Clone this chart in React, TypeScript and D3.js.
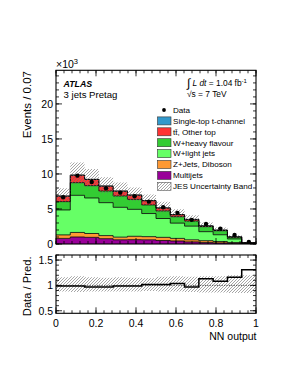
// ATLAS-style stacked NN-output histogram with a data/prediction ratio panel.
import * as d3 from "d3";

// 14 bins over [0,1], values in units of 10^3 events
const NBINS = 14;
const multijets = [0.8, 1.0, 0.95, 0.76, 0.6, 0.62, 0.6, 0.5, 0.43, 0.3, 0.2, 0.15, 0.1, 0.02];
const zjets = [0.5, 0.65, 0.55, 0.44, 0.38, 0.48, 0.45, 0.45, 0.37, 0.3, 0.27, 0.2, 0.1, 0.02];
const wlight = [3.56, 5.3, 5.07, 4.7, 4.26, 3.85, 3.3, 2.69, 2.18, 1.95, 1.29, 0.97, 0.52, 0.08];
const wheavy = [1.19, 1.81, 1.76, 1.67, 1.62, 1.42, 1.23, 1.09, 0.92, 0.73, 0.72, 0.58, 0.26, 0.04];
const ttbar = [0.78, 1.06, 0.88, 0.69, 0.68, 0.6, 0.59, 0.4, 0.27, 0.2, 0.08, 0.05, 0.01, 0.01];
const singleTop = [0.02, 0.03, 0.03, 0.03, 0.03, 0.03, 0.03, 0.03, 0.04, 0.04, 0.05, 0.05, 0.06, 0.02];
const dataPts = [6.67, 9.76, 8.86, 7.95, 7.33, 6.82, 6.05, 5.25, 4.45, 3.45, 2.85, 2.2, 1.3, 0.28];
const ratio = [0.99, 0.99, 0.97, 0.97, 0.99, 0.99, 1.02, 1.02, 1.04, 0.97, 1.13, 1.08, 1.16, 1.31];
// JES band, relative to the total prediction
const bandUp = [1.16, 1.18, 1.16, 1.15, 1.16, 1.15, 1.14, 1.17, 1.18, 1.17, 1.18, 1.18, 1.2, 1.2];
const bandDn = [0.88, 0.87, 0.88, 0.88, 0.88, 0.88, 0.89, 0.88, 0.88, 0.87, 0.86, 0.86, 0.85, 0.85];

const xTicksMajor = [0, 0.2, 0.4, 0.6, 0.8, 1];
const xTickLabels = ["0", "0.2", "0.4", "0.6", "0.8", "1"];
const yTicksMain = [0, 5, 10, 15, 20];
const yTicksRatio = [0.5, 1, 1.5];
const yRatioLabels = ["0.5", "1", "1.5"];

const layers = [
  { key: "multi", label: "Multijets", vals: multijets, color: "#990099" },
  { key: "zjets", label: "Z+Jets, Diboson", vals: zjets, color: "#ff9933" },
  { key: "wlight", label: "W+light jets", vals: wlight, color: "#66ff66" },
  { key: "wheavy", label: "W+heavy flavour", vals: wheavy, color: "#33cc33" },
  { key: "tt", label: "tt̄, Other top", vals: ttbar, color: "#ff3333" },
  { key: "st", label: "Single-top t-channel", vals: singleTop, color: "#3399cc" },
];

const FONT = "'Liberation Sans', Arial, Helvetica, sans-serif";
const W = 291;
const H = 376;

export default function App() {
  const x = d3.scaleLinear().domain([0, 1]).range([56, 256]);
  const y = d3.scaleLinear().domain([0, 24.8]).range([244, 70.3]);
  const yr = d3.scaleLinear().domain([0.45, 1.6]).range([313.3, 255]);

  const edges = d3.range(NBINS + 1).map((i) => i / NBINS);
  const rows = d3.range(NBINS).map((i) => {
    const r: Record<string, number> = {};
    layers.forEach((l) => (r[l.key] = l.vals[i]));
    return r;
  });
  const series = d3.stack<Record<string, number>>().keys(layers.map((l) => l.key))(rows);
  const totals = rows.map((r) => d3.sum(layers, (l) => r[l.key]));

  // step helpers: repeat the last value at the right edge
  const stepPts = (v: number[]) => edges.map((e, i) => [e, v[Math.min(i, NBINS - 1)]] as [number, number]);
  const area = d3
    .area<[number, number, number]>()
    .curve(d3.curveStepAfter)
    .x((d) => x(d[0]))
    .y0((d) => y(d[1]))
    .y1((d) => y(d[2]));
  const line = d3
    .line<[number, number]>()
    .curve(d3.curveStepAfter)
    .x((d) => x(d[0]))
    .y((d) => y(d[1]));
  const rArea = d3
    .area<[number, number, number]>()
    .curve(d3.curveStepAfter)
    .x((d) => x(d[0]))
    .y0((d) => yr(d[1]))
    .y1((d) => yr(d[2]));
  const rLine = d3
    .line<[number, number]>()
    .curve(d3.curveStepAfter)
    .x((d) => x(d[0]))
    .y((d) => yr(d[1]));

  const band = edges.map((e, j) => {
    const i = Math.min(j, NBINS - 1);
    return [e, totals[i] * bandDn[i], totals[i] * bandUp[i]] as [number, number, number];
  });
  const rBand = edges.map((e, j) => {
    const i = Math.min(j, NBINS - 1);
    return [e, bandDn[i], bandUp[i]] as [number, number, number];
  });

  const xMinor = d3.range(0, 1.0001, 0.04);
  const yMinorMain = d3.range(0, 24.8, 1);
  const yMinorRatio = d3.range(0.5, 1.6001, 0.1);

  const legend = [
    { label: "Data", kind: "dot" },
    ...layers
      .slice()
      .reverse()
      .map((l) => ({ label: l.label, kind: "box", color: l.color })),
    { label: "JES Uncertainty Band", kind: "hatch" },
  ];

  const frame = (top: number, bottom: number, yMaj: number[], yMin: number[], ys: (v: number) => number) => (
    <g>
      {xMinor.map((t, i) => (
        <g key={"xm" + i} stroke="#000" strokeWidth={0.8}>
          <line x1={x(t)} x2={x(t)} y1={bottom} y2={bottom - 3} />
          <line x1={x(t)} x2={x(t)} y1={top} y2={top + 3} />
        </g>
      ))}
      {xTicksMajor.map((t, i) => (
        <g key={"xM" + i} stroke="#000" strokeWidth={0.8}>
          <line x1={x(t)} x2={x(t)} y1={bottom} y2={bottom - 6} />
          <line x1={x(t)} x2={x(t)} y1={top} y2={top + 6} />
        </g>
      ))}
      {yMin.map((t, i) => (
        <g key={"ym" + i} stroke="#000" strokeWidth={0.8}>
          <line x1={56} x2={59} y1={ys(t)} y2={ys(t)} />
          <line x1={256} x2={253} y1={ys(t)} y2={ys(t)} />
        </g>
      ))}
      {yMaj.map((t, i) => (
        <g key={"yM" + i} stroke="#000" strokeWidth={0.8}>
          <line x1={56} x2={62} y1={ys(t)} y2={ys(t)} />
          <line x1={256} x2={250} y1={ys(t)} y2={ys(t)} />
        </g>
      ))}
      <rect x={56} y={top} width={200} height={bottom - top} fill="none" stroke="#000" strokeWidth={1.1} />
    </g>
  );

  return (
    <svg width={W} height={H} style={{ position: "absolute", left: 0, top: 0, background: "#fff" }} fontFamily={FONT}>
      <defs>
        <pattern id="hatch" patternUnits="userSpaceOnUse" width={3} height={3}>
          <path d="M-0.75,0.75 l1.5,-1.5 M0,3 l3,-3 M2.25,3.75 l1.5,-1.5" stroke="#6a6a6a" strokeWidth={0.6} />
        </pattern>
        <clipPath id="mainClip">
          <rect x={56} y={70.3} width={200} height={173.7} />
        </clipPath>
        <clipPath id="ratioClip">
          <rect x={56} y={255} width={200} height={58.3} />
        </clipPath>
      </defs>

      {/* main panel */}
      <g clipPath="url(#mainClip)">
        {series.map((s, k) => {
          const pts = edges.map((e, j) => {
            const d = s[Math.min(j, NBINS - 1)];
            return [e, d[0], d[1]] as [number, number, number];
          });
          return <path key={k} d={area(pts) ?? ""} fill={layers[k].color} />;
        })}
        {series.map((s, k) => (
          <path
            key={"o" + k}
            d={line(stepPts(s.map((d) => d[1]))) ?? ""}
            fill="none"
            stroke="#000"
            strokeWidth={0.8}
          />
        ))}
        <path d={area(band) ?? ""} fill="url(#hatch)" />
        {dataPts.map((v, i) => (
          <circle key={i} cx={x((edges[i] + edges[i + 1]) / 2)} cy={y(v)} r={2.2} fill="#000" />
        ))}
      </g>
      {frame(70.3, 244, yTicksMain, yMinorMain, y)}

      {yTicksMain.map((t) => (
        <text key={t} x={53} y={y(t)} dy="0.36em" textAnchor="end" fontSize={10.5}>
          {t}
        </text>
      ))}
      <text x={56} y={68.3} fontSize={10.5}>
        ×10
        <tspan dy={-4} fontSize={7.5}>
          3
        </tspan>
      </text>
      <text transform="translate(30.5,71) rotate(-90)" textAnchor="end" fontSize={11.5}>
        Events / 0.07
      </text>

      <text x={63.5} y={86.5} fontSize={8.8} fontWeight="bold" fontStyle="italic">
        ATLAS
      </text>
      <text x={63.5} y={97.5} fontSize={9.6}>
        3 jets Pretag
      </text>
      <text x={187} y={86} fontSize={8.4}>
        <tspan fontSize={12} dy={1}>∫</tspan>
        <tspan dy={-1} fontStyle="italic"> L dt</tspan>
        <tspan> = 1.04 fb</tspan>
        <tspan dy={-3.5} fontSize={6}>-1</tspan>
      </text>
      <text x={187} y={96.7} fontSize={8.4}>
        √s = 7 TeV
      </text>

      {legend.map((l, i) => {
        const cy = 110 + i * 10.9;
        return (
          <g key={l.label}>
            {l.kind === "dot" && <circle cx={164} cy={cy} r={1.9} fill="#000" />}
            {l.kind === "box" && (
              <rect x={157.5} y={cy - 4} width={13.5} height={8} fill={l.color} stroke="#333" strokeWidth={0.6} />
            )}
            {l.kind === "hatch" && (
              <rect x={157.5} y={cy - 4} width={13.5} height={8} fill="url(#hatch)" stroke="#555" strokeWidth={0.6} />
            )}
            <text x={173} y={cy} dy="0.35em" fontSize={8.1}>
              {l.label}
            </text>
          </g>
        );
      })}

      {/* ratio panel */}
      <g clipPath="url(#ratioClip)">
        <path d={rArea(rBand) ?? ""} fill="url(#hatch)" />
        <line x1={56} x2={256} y1={yr(1)} y2={yr(1)} stroke="#444" strokeWidth={0.9} strokeDasharray="1.2,1.2" />
        <path d={rLine(stepPts(ratio)) ?? ""} fill="none" stroke="#000" strokeWidth={1.5} />
      </g>
      {frame(255, 313.3, yTicksRatio, yMinorRatio, yr)}

      {yTicksRatio.map((t, i) => (
        <text key={t} x={53} y={yr(t)} dy="0.36em" textAnchor="end" fontSize={10.5}>
          {yRatioLabels[i]}
        </text>
      ))}
      <text transform="translate(30.5,256.5) rotate(-90)" textAnchor="end" fontSize={11.2}>
        Data / Pred.
      </text>
      {xTicksMajor.map((t, i) => (
        <text key={t} x={x(t)} y={326.5} textAnchor="middle" fontSize={10.5}>
          {xTickLabels[i]}
        </text>
      ))}
      <text x={256.5} y={339.5} textAnchor="end" fontSize={10.5}>
        NN output
      </text>
    </svg>
  );
}
